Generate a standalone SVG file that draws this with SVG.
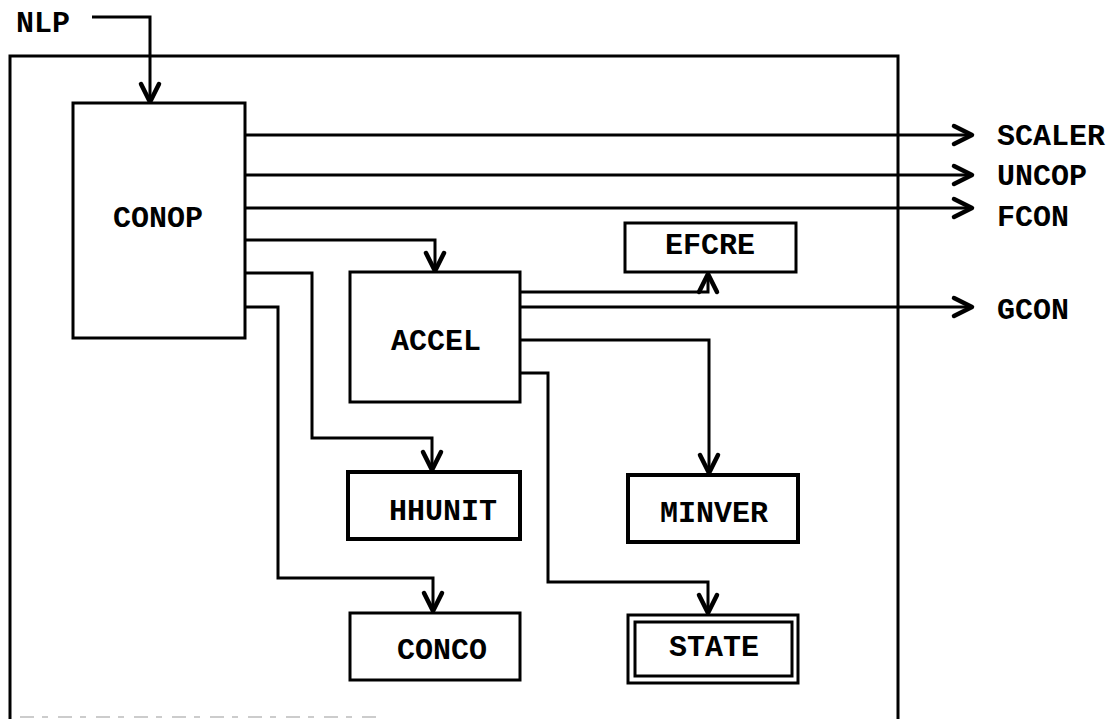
<svg xmlns="http://www.w3.org/2000/svg" width="1116" height="719" viewBox="0 0 1116 719">
<defs>
<marker id="arr" markerUnits="userSpaceOnUse" markerWidth="30" markerHeight="30" refX="0" refY="0" viewBox="-15 -10 20 20" orient="auto" overflow="visible">
<path d="M-12,-6 L0,0 L-12,6" fill="none" stroke="#000" stroke-width="3" stroke-linecap="round" stroke-linejoin="round"/>
</marker>
<style>
.box{fill:#fff;stroke:#000;stroke-width:3}
.thick{stroke-width:4}
.lbl{font-family:"Liberation Mono","Courier New",monospace;font-weight:bold;font-size:30px;fill:#000}
.c{text-anchor:middle}
.ln{fill:none;stroke:#000;stroke-width:3;stroke-linejoin:miter}
.ar{marker-end:url(#arr)}
</style>
</defs>
<rect width="1116" height="719" fill="#fff"/>
<g id="frame">
<path class="ln" d="M10,719 V56 H898 V719"/>
<path d="M20,717 H380" stroke="#ccc" stroke-width="2" stroke-dasharray="14 8 6 10"/>
</g>
<g id="connectors">
<path class="ln ar" d="M92,17 H150 V102"/>
<path class="ln ar" d="M245,135 H972"/>
<path class="ln ar" d="M245,175 H972"/>
<path class="ln ar" d="M245,208 H972"/>
<path class="ln ar" d="M245,240 H435 V271"/>
<path class="ln ar" d="M245,273 H312 V438 H432 V470"/>
<path class="ln ar" d="M245,307 H278 V578 H433 V611"/>
<path class="ln ar" d="M520,292 H708 V274"/>
<path class="ln ar" d="M520,307 H972"/>
<path class="ln ar" d="M520,340 H709 V473"/>
<path class="ln ar" d="M520,373 H548 V582 H708 V613"/>
</g>
<g id="nlp"><text class="lbl" x="16" y="32">NLP</text></g>
<g id="conop">
<rect class="box" x="73" y="103" width="172" height="235"/>
<text class="lbl c" x="158" y="227">CONOP</text>
</g>
<g id="scaler"><text class="lbl" x="997" y="145">SCALER</text></g>
<g id="uncop"><text class="lbl" x="997" y="185">UNCOP</text></g>
<g id="fcon"><text class="lbl" x="997" y="226">FCON</text></g>
<g id="gcon"><text class="lbl" x="997" y="319">GCON</text></g>
<g id="accel">
<rect class="box" x="350" y="272" width="170" height="130"/>
<text class="lbl c" x="436" y="350">ACCEL</text>
</g>
<g id="efcre">
<rect class="box" x="625" y="223" width="171" height="49"/>
<text class="lbl c" x="710" y="254">EFCRE</text>
</g>
<g id="hhunit">
<rect class="box thick" x="348" y="472" width="172" height="67"/>
<text class="lbl c" x="443" y="520">HHUNIT</text>
</g>
<g id="minver">
<rect class="box thick" x="628" y="475" width="170" height="67"/>
<text class="lbl c" x="714" y="522">MINVER</text>
</g>
<g id="conco">
<rect class="box" x="350" y="613" width="170" height="67"/>
<text class="lbl c" x="442" y="659">CONCO</text>
</g>
<g id="state">
<rect class="box" x="628" y="615" width="170" height="68"/>
<rect class="box" x="635" y="622" width="157" height="54"/>
<text class="lbl c" x="714" y="656">STATE</text>
</g>
</svg>
